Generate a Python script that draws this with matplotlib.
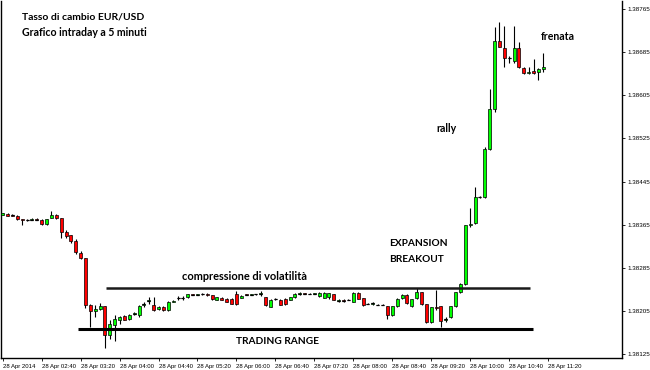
import matplotlib
matplotlib.use("Agg")
import matplotlib.pyplot as plt
import numpy as np

# ---- data (EUR/USD 5-minute candles, 28 Apr 2014 from 02:00) ----
opens = [1.38384, 1.38385, 1.38383, 1.38382, 1.38375, 1.38374, 1.38374, 1.38375, 1.38374, 1.38366,
         1.38378, 1.38384, 1.38377, 1.38351, 1.38346, 1.38335, 1.38312, 1.38303, 1.38217, 1.38205,
         1.38208, 1.38214, 1.38160, 1.38180, 1.38188, 1.38196, 1.38190, 1.38200, 1.38197, 1.38217,
         1.38224, 1.38217, 1.38208, 1.38213, 1.38207, 1.38222, 1.38229, 1.38230, 1.38231, 1.38236,
         1.38235, 1.38236, 1.38236, 1.38234, 1.38226, 1.38230, 1.38228, 1.38228, 1.38236, 1.38230,
         1.38236, 1.38235, 1.38236, 1.38237, 1.38231, 1.38213, 1.38227, 1.38226, 1.38228, 1.38226,
         1.38231, 1.38237, 1.38238, 1.38237, 1.38237, 1.38233, 1.38230, 1.38231, 1.38236, 1.38224,
         1.38225, 1.38226, 1.38222, 1.38239, 1.38229, 1.38219, 1.38219, 1.38217, 1.38217, 1.38214,
         1.38197, 1.38214, 1.38229, 1.38235, 1.38214, 1.38229, 1.38240, 1.38218, 1.38184, 1.38212,
         1.38214, 1.38189, 1.38194, 1.38214, 1.38240, 1.38255, 1.38365, 1.38368, 1.38416, 1.38416,
         1.38505, 1.38580, 1.38706, 1.38693, 1.38674, 1.38669, 1.38693, 1.38656, 1.38646, 1.38650,
         1.38648, 1.38654]
closes = [1.38386, 1.38382, 1.38382, 1.38375, 1.38373, 1.38373, 1.38375, 1.38374, 1.38366, 1.38375,
          1.38384, 1.38377, 1.38352, 1.38345, 1.38335, 1.38314, 1.38303, 1.38217, 1.38206, 1.38209,
          1.38214, 1.38160, 1.38182, 1.38190, 1.38195, 1.38189, 1.38197, 1.38201, 1.38214, 1.38218,
          1.38225, 1.38207, 1.38213, 1.38207, 1.38222, 1.38224, 1.38230, 1.38229, 1.38236, 1.38235,
          1.38236, 1.38236, 1.38234, 1.38227, 1.38231, 1.38226, 1.38222, 1.38219, 1.38219, 1.38233,
          1.38235, 1.38236, 1.38236, 1.38238, 1.38216, 1.38226, 1.38228, 1.38217, 1.38218, 1.38231,
          1.38237, 1.38238, 1.38237, 1.38237, 1.38238, 1.38239, 1.38239, 1.38238, 1.38226, 1.38225,
          1.38224, 1.38226, 1.38239, 1.38228, 1.38216, 1.38219, 1.38220, 1.38217, 1.38217, 1.38197,
          1.38214, 1.38228, 1.38235, 1.38220, 1.38227, 1.38240, 1.38218, 1.38184, 1.38212, 1.38210,
          1.38186, 1.38190, 1.38214, 1.38240, 1.38255, 1.38364, 1.38367, 1.38416, 1.38417, 1.38505,
          1.38580, 1.38706, 1.38695, 1.38674, 1.38675, 1.38693, 1.38657, 1.38646, 1.38648, 1.38647,
          1.38654, 1.38657]
highs = [1.38387, 1.38386, 1.38385, 1.38383, 1.38376, 1.38375, 1.38378, 1.38378, 1.38375, 1.38376,
         1.38390, 1.38385, 1.38378, 1.38355, 1.38347, 1.38338, 1.38316, 1.38304, 1.38218, 1.38216,
         1.38220, 1.38215, 1.38188, 1.38197, 1.38196, 1.38197, 1.38200, 1.38204, 1.38216, 1.38222,
         1.38231, 1.38231, 1.38214, 1.38214, 1.38224, 1.38225, 1.38233, 1.38233, 1.38237, 1.38237,
         1.38237, 1.38238, 1.38238, 1.38235, 1.38232, 1.38231, 1.38229, 1.38229, 1.38242, 1.38234,
         1.38237, 1.38237, 1.38237, 1.38242, 1.38232, 1.38227, 1.38229, 1.38227, 1.38229, 1.38232,
         1.38239, 1.38241, 1.38239, 1.38238, 1.38239, 1.38240, 1.38240, 1.38239, 1.38237, 1.38227,
         1.38228, 1.38227, 1.38240, 1.38240, 1.38230, 1.38220, 1.38222, 1.38218, 1.38218, 1.38215,
         1.38215, 1.38229, 1.38236, 1.38236, 1.38228, 1.38247, 1.38241, 1.38219, 1.38213, 1.38244,
         1.38215, 1.38194, 1.38215, 1.38241, 1.38257, 1.38365, 1.38396, 1.38435, 1.38418, 1.38510,
         1.38617, 1.38732, 1.38741, 1.38734, 1.38677, 1.38734, 1.38704, 1.38657, 1.38657, 1.38672,
         1.38655, 1.38684]
lows = [1.38383, 1.38381, 1.38381, 1.38374, 1.38364, 1.38372, 1.38373, 1.38373, 1.38365, 1.38365,
        1.38377, 1.38376, 1.38341, 1.38341, 1.38332, 1.38311, 1.38301, 1.38211, 1.38175, 1.38194,
        1.38207, 1.38136, 1.38154, 1.38150, 1.38182, 1.38188, 1.38189, 1.38197, 1.38195, 1.38213,
        1.38219, 1.38206, 1.38207, 1.38206, 1.38205, 1.38221, 1.38226, 1.38226, 1.38230, 1.38234,
        1.38234, 1.38234, 1.38233, 1.38226, 1.38225, 1.38225, 1.38221, 1.38218, 1.38216, 1.38229,
        1.38234, 1.38234, 1.38235, 1.38233, 1.38215, 1.38212, 1.38226, 1.38216, 1.38217, 1.38225,
        1.38230, 1.38234, 1.38236, 1.38236, 1.38236, 1.38232, 1.38229, 1.38227, 1.38225, 1.38222,
        1.38222, 1.38225, 1.38221, 1.38227, 1.38215, 1.38218, 1.38216, 1.38216, 1.38216, 1.38191,
        1.38196, 1.38213, 1.38228, 1.38219, 1.38213, 1.38228, 1.38217, 1.38183, 1.38183, 1.38207,
        1.38175, 1.38184, 1.38193, 1.38213, 1.38239, 1.38254, 1.38361, 1.38367, 1.38414, 1.38415,
        1.38504, 1.38574, 1.38694, 1.38657, 1.38664, 1.38665, 1.38656, 1.38645, 1.38644, 1.38645,
        1.38633, 1.38649]

x_tick_labels = ["28 Apr 2014", "28 Apr 02:40", "28 Apr 03:20", "28 Apr 04:00", "28 Apr 04:40",
                 "28 Apr 05:20", "28 Apr 06:00", "28 Apr 06:40", "28 Apr 07:20", "28 Apr 08:00",
                 "28 Apr 08:40", "28 Apr 09:20", "28 Apr 10:00", "28 Apr 10:40", "28 Apr 11:20"]
y_ticks = [1.38125, 1.38205, 1.38285, 1.38365, 1.38445, 1.38525, 1.38605, 1.38685, 1.38765]

# horizontal levels of the trading range
range_top = 1.38248
range_bottom = 1.38171

W, H = 650, 370
fig = plt.figure(figsize=(6.5, 3.7), dpi=100)
ax = fig.add_axes([1 / W, 1 - 358 / H, 621 / W, 357 / H])

n = len(opens)
xs = np.arange(n)
o = np.array(opens); c = np.array(closes); hi = np.array(highs); lo = np.array(lows)

ax.vlines(xs, lo, hi, color="black", lw=0.8, zorder=2)
up = c > o
bw = 0.62
body_bottom = np.minimum(o, c)
body_h = np.abs(c - o)
ax.bar(xs[up], body_h[up], bottom=body_bottom[up], width=bw, color="#00ff00",
       edgecolor="black", linewidth=0.5, zorder=3)
ax.bar(xs[~up], body_h[~up], bottom=body_bottom[~up], width=bw, color="#ff0000",
       edgecolor="black", linewidth=0.5, zorder=3)
doji = body_h < 0.000015
ax.hlines(((o + c) / 2)[doji], xs[doji] - bw / 2, xs[doji] + bw / 2, color="black", lw=0.9, zorder=4)

ax.hlines(range_top, 21.2, 108.3, color="#1a1a1a", lw=1.8, zorder=5)
ax.hlines(range_bottom, 15.5, 108.8, color="black", lw=2.2, zorder=5)

ax.set_xlim(-0.35, 127.17)
ax.set_ylim(1.381181, 1.387798)

ax.set_xticks(np.arange(0, 8 * len(x_tick_labels), 8))
ax.set_xticklabels(x_tick_labels, ha="left", fontsize=4.3, family="Liberation Sans")
ax.set_yticks(y_ticks)
ax.set_yticklabels([f"{v:.5f}" for v in y_ticks], fontsize=4.5, family="Liberation Sans")
ax.yaxis.tick_right()
ax.tick_params(axis="both", direction="out", length=2.5, width=0.6, pad=1.5, colors="black")
ax.tick_params(axis="x", pad=2)
ax.spines["top"].set_visible(False)
for s in ["left", "right", "bottom"]:
    ax.spines[s].set_linewidth(1.0)

def ptext(x, y, s, size=7.3):
    fig.text(x / W, 1 - y / H, s, fontsize=size, fontweight="bold", family="Lato",
             va="center", ha="left", color="black")

ptext(22, 17, "Tasso di cambio EUR/USD", 7.5)
ptext(22, 33, "Grafico intraday a 5 minuti", 7.6)
ptext(541, 36, "frenata", 7.6)
ptext(436, 129, "rally", 7.6)
ptext(389, 243, "EXPANSION", 7.3)
ptext(389, 259, "BREAKOUT", 7.3)
ptext(182, 276, "compressione di volatilità", 7.9)
ptext(236, 341, "TRADING RANGE", 7.3)

fig.savefig("out.png", dpi=100)
